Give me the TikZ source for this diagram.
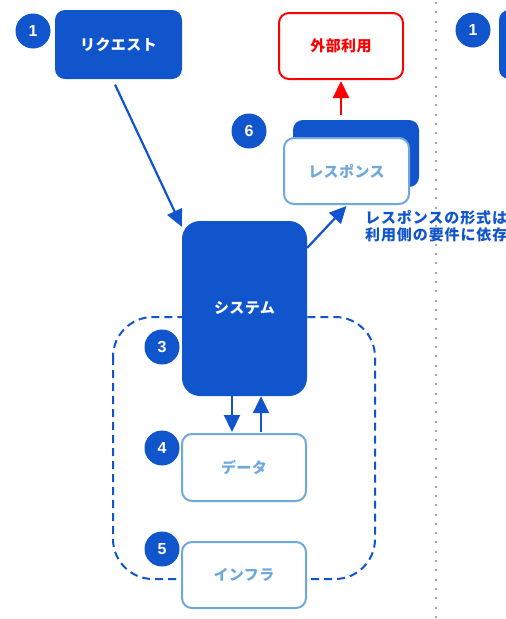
\documentclass[tikz,border=0pt]{standalone}
\usepackage{fontspec}
\usetikzlibrary{arrows.meta,calc}
\newfontfamily\jpfont{Noto Sans CJK JP}[LetterSpace=3]
\newfontfamily\jpnotefont{Noto Sans CJK JP}[LetterSpace=6]
\newfontfamily\numfont{Liberation Sans}
\definecolor{myblue}{HTML}{1155CC}
\definecolor{lightblue}{HTML}{6FA8DC}
\definecolor{myred}{HTML}{FF0000}
\definecolor{dotgray}{HTML}{A6A6A6}
\newcommand\lblfont{\jpfont\bfseries\fontsize{15}{17.5}\selectfont}
\newcommand\notefont{\jpnotefont\bfseries\fontsize{15}{17.5}\selectfont}
\begin{document}
\begin{tikzpicture}[x=1pt,y=-1pt,
  darkbox/.style={rectangle, rounded corners=10pt, fill=myblue, draw=none, text=white, font=\lblfont, inner sep=0pt},
  lightbox/.style={rectangle, rounded corners=10pt, fill=white, draw=lightblue, line width=2pt, text=lightblue, font=\lblfont, inner sep=0pt},
  redbox/.style={rectangle, rounded corners=10pt, fill=white, draw=myred, line width=2pt, text=myred, font=\lblfont, inner sep=0pt},
  badge/.style={circle, fill=myblue, text=white, minimum size=35pt, inner sep=0pt, font=\numfont\bfseries\fontsize{16}{16}\selectfont},
  arr/.style={draw=myblue, line width=2.2pt, -{Triangle[length=17pt,width=16pt]}},
  redarr/.style={draw=myred, line width=2.2pt, -{Triangle[length=17pt,width=16pt]}},
  dashbox/.style={draw=myblue, line width=2pt, dash pattern=on 8pt off 5pt, rounded corners=40pt},
  dotline/.style={draw=dotgray, line width=2pt, dash pattern=on 2pt off 7.3pt}
]
\useasboundingbox (0,0) rectangle (506,619);
\fill[white] (0,0) rectangle (506,619);

% separator
\draw[dotline] (436,2) -- (436,619);

% dashed boundary
\draw[dashbox] (113,317) rectangle (375,579);

% nodes
\node[darkbox, minimum width=127pt, minimum height=69pt] (req) at (118.5,44.5) {リクエスト};
\node[redbox, minimum width=124pt, minimum height=66pt] (ext) at (341,46) {外部利用};
\node[darkbox, minimum width=126pt, minimum height=67pt] (shadow) at (356,153.5) {};
\node[lightbox, minimum width=125pt, minimum height=66pt] (resp) at (346.5,171) {レスポンス};
\node[darkbox, rounded corners=18pt, minimum width=125pt, minimum height=175pt] (sys) at (244.5,308.5) {システム};
\node[lightbox, minimum width=124pt, minimum height=67pt] (data) at (244,467.5) {データ};
\node[lightbox, minimum width=124pt, minimum height=66pt] (infra) at (244,575) {インフラ};
\node[darkbox, minimum width=122pt, minimum height=69pt] (rbox) at (560,44.5) {};

% badges
\node[badge] (b1) at (33,31) {1};
\node[badge] (b6) at (249,131) {6};
\node[badge] (b3) at (162,347) {3};
\node[badge] (b4) at (162,448) {4};
\node[badge] (b5) at (162,549) {5};
\node[badge] (b1r) at (473,30) {1};

% note
\node[anchor=base west, inner sep=0pt, align=left, text=myblue, font=\notefont] (note) at (365,240.5) {レスポンスの形式は\\利用側の要件に依存};

% connectors
\draw[arr, shorten <=6pt] ([xshift=-6pt]req.south) -- ([yshift=-6pt]sys.north west);
\draw[arr] ([yshift=-27pt]sys.north east) -- ([yshift=-1pt]resp.south);
\coordinate (redstart) at ($(ext.south |- shadow.north)+(0,-5)$);
\draw[redarr] (redstart) -- ([yshift=-1pt]ext.south);
\draw[arr] ([xshift=-12.5pt]sys.south) -- ([xshift=-12pt,yshift=1pt]data.north);
\draw[arr] ([xshift=17pt,yshift=1pt]data.north) -- ([xshift=16.5pt]sys.south);
\end{tikzpicture}
\end{document}
